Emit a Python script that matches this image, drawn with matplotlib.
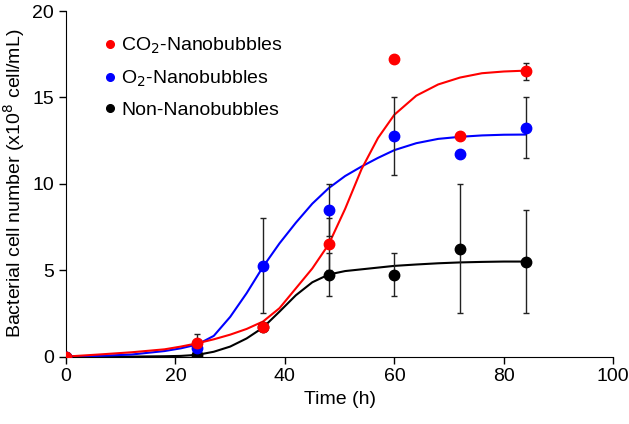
import numpy as np
import matplotlib.pyplot as plt

plt.rcParams["font.family"] = ["Liberation Sans", "DejaVu Sans"]
plt.rcParams["font.size"] = 14

# measured points
time = [0, 24, 36, 48, 60, 72, 84]
co2 = [0, 0.8, 1.7, 6.5, 17.25, 12.75, 16.5]
co2_err = [0, 0.5, 0, 1.5, 0, 0, 0.5]
o2 = [0, 0.5, 5.25, 8.5, 12.75, 11.75, 13.25]
o2_err = [0, 0, 2.75, 1.5, 2.25, 0, 1.75]
non = [0, 0.1, 1.7, 4.75, 4.75, 6.25, 5.5]
non_err = [0, 0, 0, 1.25, 1.25, 3.75, 3.0]

# fitted curves
fit_t = [0, 6, 12, 18, 21, 24, 27, 30, 33, 36, 39, 42, 45, 48, 51, 54, 57, 60,
         64, 68, 72, 76, 80, 84]
fit_co2 = [0, 0.12, 0.25, 0.42, 0.58, 0.77, 1.0, 1.27, 1.6, 2.03, 2.8, 3.95, 5.1,
           6.5, 8.55, 10.85, 12.65, 14.0, 15.1, 15.75, 16.15, 16.4, 16.5, 16.55]
fit_o2 = [0, 0.04, 0.12, 0.32, 0.48, 0.7, 1.2, 2.3, 3.67, 5.2, 6.55, 7.75, 8.85,
          9.75, 10.45, 11.0, 11.5, 11.95, 12.35, 12.6, 12.72, 12.8, 12.84, 12.85]
fit_non = [0, 0, 0, 0.02, 0.04, 0.1, 0.28, 0.58, 1.05, 1.68, 2.6, 3.55, 4.3,
           4.75, 4.95, 5.05, 5.15, 5.25, 5.33, 5.4, 5.45, 5.48, 5.5, 5.5]

fig = plt.figure(figsize=(6.29, 4.24), dpi=100)
ax = fig.add_axes([0.105, 0.159, 0.87, 0.815])

ax.plot(fit_t, fit_non, color="black", lw=1.5, zorder=2)
ax.plot(fit_t, fit_o2, color="blue", lw=1.5, zorder=2)
ax.plot(fit_t, fit_co2, color="red", lw=1.5, zorder=2)

for y, err in [(non, non_err), (o2, o2_err), (co2, co2_err)]:
    t = [a for a, e in zip(time, err) if e > 0]
    v = [a for a, e in zip(y, err) if e > 0]
    e = [a for a in err if a > 0]
    ax.errorbar(t, v, yerr=e, fmt="none", ecolor="#222222", elinewidth=1,
                capsize=2.5, capthick=1, zorder=3)

ax.plot(time, non, "o", color="black", ms=7.5, zorder=4)
ax.plot(time, o2, "o", color="blue", ms=7.5, zorder=4)
ax.plot(time, co2, "o", color="red", ms=7.5, zorder=4)

# legend entries
h1, = ax.plot([], [], "o", color="red", ms=5.5, label="CO$_2$-Nanobubbles")
h2, = ax.plot([], [], "o", color="blue", ms=5.5, label="O$_2$-Nanobubbles")
h3, = ax.plot([], [], "o", color="black", ms=5.5, label="Non-Nanobubbles")
ax.legend(handles=[h1, h2, h3], loc="upper left", frameon=False,
          handletextpad=0.1, handlelength=1.0, labelspacing=0.65,
          bbox_to_anchor=(0.03, 0.98))

ax.set_xlim(0, 100)
ax.set_ylim(0, 20)
ax.set_xticks([0, 20, 40, 60, 80, 100])
ax.set_yticks([0, 5, 10, 15, 20])
ax.spines["top"].set_visible(False)
ax.spines["right"].set_visible(False)
ax.tick_params(direction="out", length=5, width=1)
ax.set_xlabel("Time (h)")
ax.set_ylabel("Bacterial cell number (x10$^8$ cell/mL)")

fig.savefig("out.png", dpi=100)
